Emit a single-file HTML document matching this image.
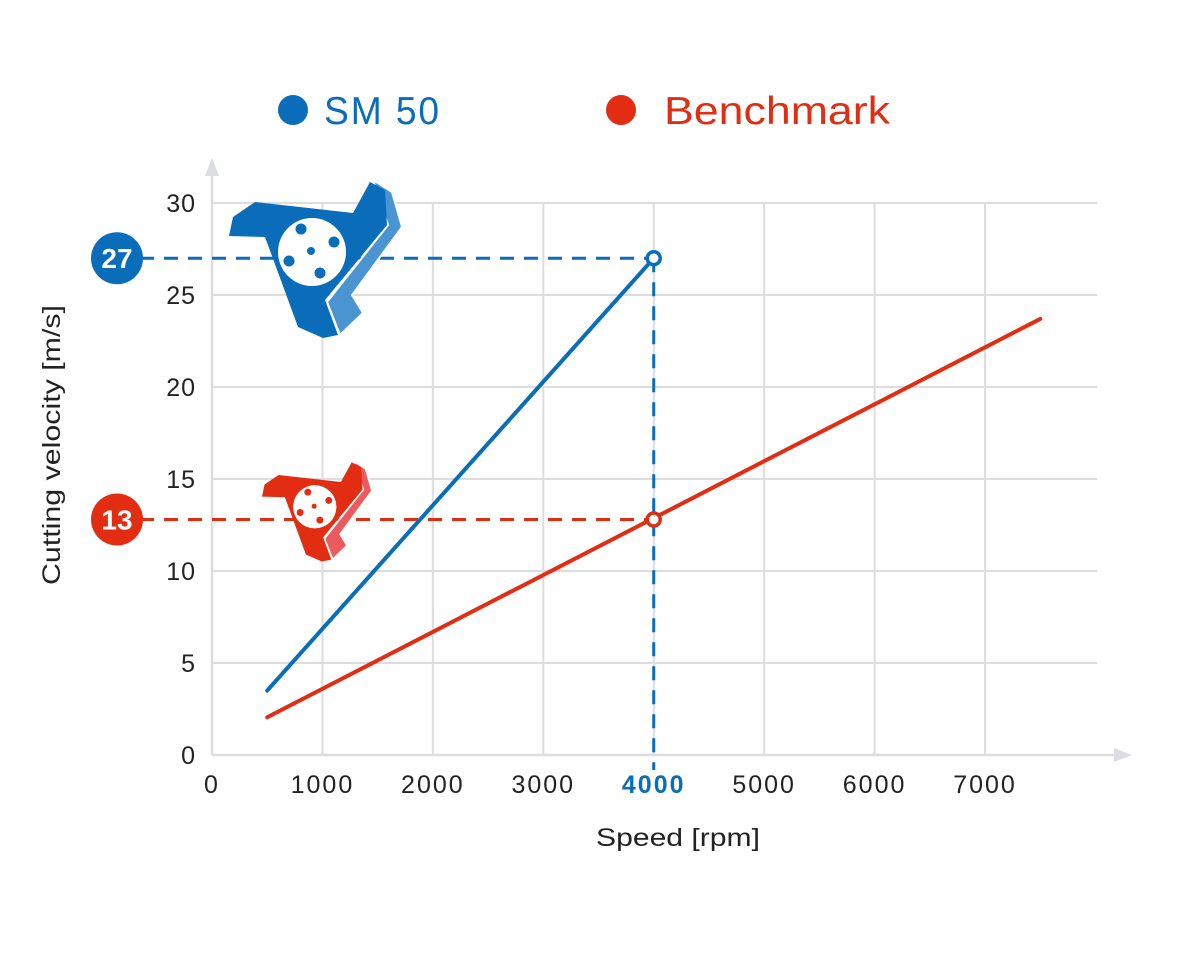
<!DOCTYPE html>
<html><head><meta charset="utf-8"><style>
html,body{margin:0;padding:0;background:#fff;}
svg{display:block;font-family:"Liberation Sans",sans-serif;}
</style></head><body>
<svg id="chart" width="1200" height="960" viewBox="0 0 1200 960">
<g id="grid"></g>
<g id="axes">
 <line x1="212" y1="170" x2="212" y2="755" stroke="#dcdde0" stroke-width="2.5"/>
 <polygon points="205,176 219,176 212,158" fill="#dcdde0"/>
 <line x1="212" y1="755" x2="1118" y2="755" stroke="#dcdde0" stroke-width="2.5"/>
 <polygon points="1114,748 1114,762 1132,755" fill="#dcdde0"/>
</g>
<g id="ticks"></g>
<g id="series"></g>
<g id="icons">
 <g id="blueIcon">
  <polygon points="373,180 392,192 402,227 352,295 363,313 340,335 327,302 388,225" fill="#4a94d1" stroke="#fff" stroke-width="2"/>
  <polygon points="233,217 255,202 353,213 370,182 385,190 387,225 325,300 338,335 323,338 298,327 265,237 229,236" fill="#0a6dba"/>
  <circle cx="312" cy="252" r="34" fill="#fff"/>
  <circle cx="301" cy="229" r="5.5" fill="#0a6dba"/><circle cx="334" cy="242" r="5.5" fill="#0a6dba"/>
  <circle cx="289" cy="261" r="5.5" fill="#0a6dba"/><circle cx="320" cy="273" r="5.5" fill="#0a6dba"/>
  <circle cx="311" cy="251" r="4" fill="#0a6dba"/>
 </g>
 <g transform="translate(262,461) scale(0.636) translate(-229,-180)">
  <polygon points="373,180 392,192 402,227 352,295 363,313 340,335 327,302 388,225" fill="#ec5a5e" stroke="#fff" stroke-width="3"/>
  <polygon points="233,217 255,202 353,213 370,182 385,190 387,225 325,300 338,335 323,338 298,327 265,237 229,236" fill="#e32d13"/>
  <circle cx="312" cy="252" r="34" fill="#fff"/>
  <circle cx="301" cy="229" r="5.5" fill="#e32d13"/><circle cx="334" cy="242" r="5.5" fill="#e32d13"/>
  <circle cx="289" cy="261" r="5.5" fill="#e32d13"/><circle cx="320" cy="273" r="5.5" fill="#e32d13"/>
  <circle cx="311" cy="251" r="4" fill="#e32d13"/>
 </g>
</g>
<g id="badges"></g>
<g id="legend">
 <g>
  <circle cx="293" cy="110" r="15" fill="#0a6dba"/>
  <text x="324" y="124" font-size="39" letter-spacing="2" fill="#0a6dba" textLength="117" lengthAdjust="spacingAndGlyphs">SM 50</text>
 </g>
 <g>
  <circle cx="621" cy="110" r="15" fill="#e32d13"/>
  <text x="664" y="124" font-size="39" fill="#e32d13" textLength="226" lengthAdjust="spacingAndGlyphs">Benchmark</text>
 </g>
</g>
<text x="596" y="846" font-size="25" fill="#222" textLength="164" lengthAdjust="spacingAndGlyphs">Speed [rpm]</text>
<text transform="translate(60,585) rotate(-90)" font-size="25" fill="#222" textLength="280" lengthAdjust="spacingAndGlyphs">Cutting velocity [m/s]</text>
</svg>
<script>
const xTicks=[0,1000,2000,3000,4000,5000,6000,7000];
const yTicks=[0,5,10,15,20,25,30];
const sm50X=[500,4000];
const sm50Y=[3.5,27];
const benchX=[500,7500];
const benchY=[2.05,23.7];
const highlightX=4000;
const sm50Label="27";
const benchLabel="13";
const sm50HighlightY=27;
const benchHighlightY=12.8;

const X=v=>212+v*0.11043;
const Y=v=>755-v*18.4;
const NS="http://www.w3.org/2000/svg";
function mk(tag,attrs,parent,text){const e=document.createElementNS(NS,tag);for(const k in attrs)e.setAttribute(k,attrs[k]);if(text!==undefined)e.textContent=text;parent.appendChild(e);return e;}
const grid=document.getElementById('grid'),ticks=document.getElementById('ticks'),series=document.getElementById('series'),badges=document.getElementById('badges');
yTicks.forEach(t=>{
 if(t>0){const l=mk('line',{x1:212,x2:1097,y1:Y(t),y2:Y(t),stroke:'#dcdde0','stroke-width':2},grid);
 
 }
 const tx=mk('text',{x:196,y:Y(t)+9,'font-size':25,fill:'#222','text-anchor':'end','letter-spacing':1},ticks,String(t));
 
 
});
xTicks.forEach(t=>{
 if(t>0){const l=mk('line',{x1:X(t),x2:X(t),y1:Y(30),y2:755,stroke:'#dcdde0','stroke-width':2},grid);
 
 }
 const hl=t===highlightX;
 const tx=mk('text',{x:X(t),y:793,'font-size':25,fill:hl?'#0a6dba':'#222','font-weight':hl?'bold':'normal','text-anchor':'middle','letter-spacing':2},ticks,String(t));
 
 
});
const gv=mk('line',{x1:X(highlightX),x2:X(highlightX),y1:Y(sm50HighlightY),y2:770,stroke:'#0a6dba','stroke-width':3,'stroke-dasharray':'14,10'},series);


const gb=mk('line',{x1:140,x2:X(highlightX),y1:Y(sm50HighlightY),y2:Y(sm50HighlightY),stroke:'#0a6dba','stroke-width':3,'stroke-dasharray':'14,10'},series);


const gr=mk('line',{x1:140,x2:X(highlightX),y1:Y(benchHighlightY),y2:Y(benchHighlightY),stroke:'#e32d13','stroke-width':3,'stroke-dasharray':'14,10'},series);


function line(xs,ys,color,name){
 const pts=xs.map((x,i)=>X(x)+','+Y(ys[i])).join(' ');
 const p=mk('polyline',{points:pts,fill:'none',stroke:color,'stroke-width':4,'stroke-linecap':'round'},series);
 
 
}
line(sm50X,sm50Y,'#0a6dba','sm50-line');
line(benchX,benchY,'#e32d13','benchmark-line');
const m1=mk('circle',{cx:X(highlightX),cy:Y(sm50HighlightY),r:6.5,fill:'#fff',stroke:'#0a6dba','stroke-width':3.5},series);


const m2=mk('circle',{cx:X(highlightX),cy:Y(benchHighlightY),r:6.5,fill:'#fff',stroke:'#e32d13','stroke-width':3.5},series);


function badge(val,y,color,name){
 const g=mk('g',{},badges);
 
 
 mk('circle',{cx:117,cy:Y(y),r:26,fill:color},g);
 mk('text',{x:117,y:Y(y)+10,'font-size':28,'font-weight':'bold',fill:'#fff','text-anchor':'middle'},g,val);
}
badge(sm50Label,sm50HighlightY,'#0a6dba','sm50-value-badge');
badge(benchLabel,benchHighlightY,'#e32d13','benchmark-value-badge');
</script>
</body></html>
